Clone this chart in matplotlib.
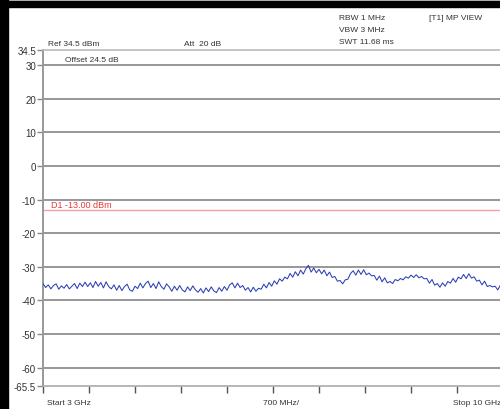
import numpy as np
import matplotlib
matplotlib.use("Agg")
import matplotlib.pyplot as plt
from matplotlib.patches import Rectangle

plt.rcParams['font.family'] = ['Liberation Sans', 'DejaVu Sans']

# Sweep settings
f_start, f_stop = 3.0, 10.0          # GHz
span_per_div = 0.7                   # GHz (700 MHz/div)
ref_level, bottom_level = 34.5, -65.5
grid_levels = [30, 20, 10, 0, -10, -20, -30, -40, -50, -60]
ytick_values = [34.5] + grid_levels + [-65.5]
ytick_labels = ["34.5", "30", "20", "10", "0", "-10", "-20", "-30", "-40", "-50", "-60", "-65.5"]
limit_level = -13.0
limit_label = "D1 -13.00 dBm"

header_left = ["Ref 34.5 dBm", "Att  20 dB"]
header_mid = ["RBW 1 MHz", "VBW 3 MHz", "SWT 11.68 ms"]
header_right = "[T1] MP VIEW"
offset_label = "Offset 24.5 dB"
x_labels = ["Start 3 GHz", "700 MHz/", "Stop 10 GHz"]

# Measured trace (dBm), evenly spaced from start to stop
trace = [
    -35.0, -36.2, -35.4, -36.6, -35.6, -35.1, -36.7, -35.7, -36.4, -35.3, -36.6, -35.8, -35.0, -36.5,
    -34.9, -35.9, -34.6, -35.9, -34.8, -36.2, -34.4, -35.8, -34.7, -36.3, -34.5, -35.9,
    -36.6, -35.4, -37.0, -35.6, -37.1, -35.9, -35.2, -36.9, -37.3, -35.8, -36.5,
    -34.9, -36.3, -35.0, -34.3, -36.2, -35.0, -36.5, -34.5, -35.9, -36.7, -35.1,
    -36.0, -37.3, -35.8, -37.0, -35.6, -36.9, -37.5, -36.0, -37.1, -35.7, -36.9, -37.6,
    -36.5, -37.8, -36.3, -37.4, -36.0, -37.2, -37.7, -36.2, -37.3, -35.9, -37.0,
    -35.4, -34.8, -36.3, -34.9, -36.2, -35.6,
    -37.0, -36.2, -37.5, -36.1, -37.3, -36.4,
    -36.7, -35.2, -36.3, -34.7, -35.8, -34.2, -35.2,
    -33.6, -34.3, -33.1, -33.6, -32.0, -33.1, -31.5, -32.7,
    -31.0, -32.2, -30.6, -29.6, -31.6, -30.4, -31.8, -30.8,
    -32.1, -31.0, -32.7, -31.6, -33.2, -32.9, -34.3, -34.1,
    -35.1, -33.9, -33.7, -32.0,
    -31.2, -32.5, -31.0, -32.3, -30.9, -32.4, -31.9, -32.7,
    -32.6, -34.0, -32.8, -34.5, -33.3, -34.8, -34.4, -35.0,
    -33.8, -34.2, -33.5, -33.9, -33.0, -33.4, -32.5, -33.2, -32.4, -33.3,
    -32.9, -33.6, -33.5, -34.9, -33.8, -35.5, -35.0, -36.1,
    -34.8, -35.8, -34.4, -34.9, -33.5, -34.6, -33.1, -33.6,
    -32.3, -33.5, -32.1, -33.4, -33.0, -34.3,
    -34.0, -35.4, -34.3, -35.9, -35.6, -36.0, -35.8, -36.9, -35.5, -36.7,
]
freqs = np.linspace(f_start, f_stop, len(trace))

W, H = 500, 410
fig = plt.figure(figsize=(W / 100, H / 100), dpi=100)
fig.patch.set_facecolor("white")


def px(x, y):
    return x / W, 1 - y / H


# Window frame
fig.patches.append(Rectangle(px(0, 2), 1, 2 / H, transform=fig.transFigure, color="#d8d8d8", zorder=0))
fig.patches.append(Rectangle(px(0, 8), 1, 6 / H, transform=fig.transFigure, color="black", zorder=5))
fig.patches.append(Rectangle((0, 0), 8 / W, 1, transform=fig.transFigure, color="black", zorder=5))

x0, y0 = px(43, 387)
x1, y1 = px(503, 51)
ax = fig.add_axes([x0, y0, x1 - x0, y1 - y0])
ax.set_xlim(f_start, f_stop)
ax.set_ylim(bottom_level, ref_level)

for lv in grid_levels:
    ax.axhline(lv, color="#7a7a7a", lw=1.1, zorder=1)

ax.axhline(limit_level, color="#f4a0a0", lw=1.0, zorder=2)
ax.text(f_start + 0.12, limit_level + 0.3, limit_label, color="#e03a3a", fontsize=6.5,
        va="bottom", ha="left")

ax.plot(freqs, trace, color="#2b3fb5", lw=0.75, zorder=3)

ax.set_yticks(ytick_values)
ax.set_yticklabels(ytick_labels)
xt = [f_start + span_per_div * k for k in range(11)]
ax.set_xticks(xt)
ax.set_xticklabels([])
ax.tick_params(axis="y", direction="out", length=4, width=1, color="#888888",
               labelsize=7, labelcolor="#333333", pad=1)
ax.tick_params(axis="x", direction="out", length=5, width=1, color="#555555")

ax.spines["right"].set_visible(False)
ax.spines["left"].set_color("#999999")
ax.spines["left"].set_linewidth(1.4)
ax.spines["bottom"].set_color("#aaaaaa")
ax.spines["bottom"].set_linewidth(1.2)
ax.spines["top"].set_color("#bbbbbb")
ax.spines["top"].set_linewidth(1.2)

txt = dict(fontsize=6, color="#333333", va="center", ha="left")
fig.text(*px(48, 44), header_left[0], **txt)
fig.text(*px(184, 44), header_left[1], **txt)
for i, s in enumerate(header_mid):
    fig.text(*px(339, 19 + 12 * i), s, **txt)
fig.text(*px(429, 19), header_right, **txt)
fig.text(*px(65, 61), offset_label, **txt)

fig.text(*px(47, 404), x_labels[0], **txt)
fig.text(*px(263, 404), x_labels[1], **txt)
fig.text(*px(453, 404), x_labels[2], **txt)

fig.savefig("out.png", dpi=100)
